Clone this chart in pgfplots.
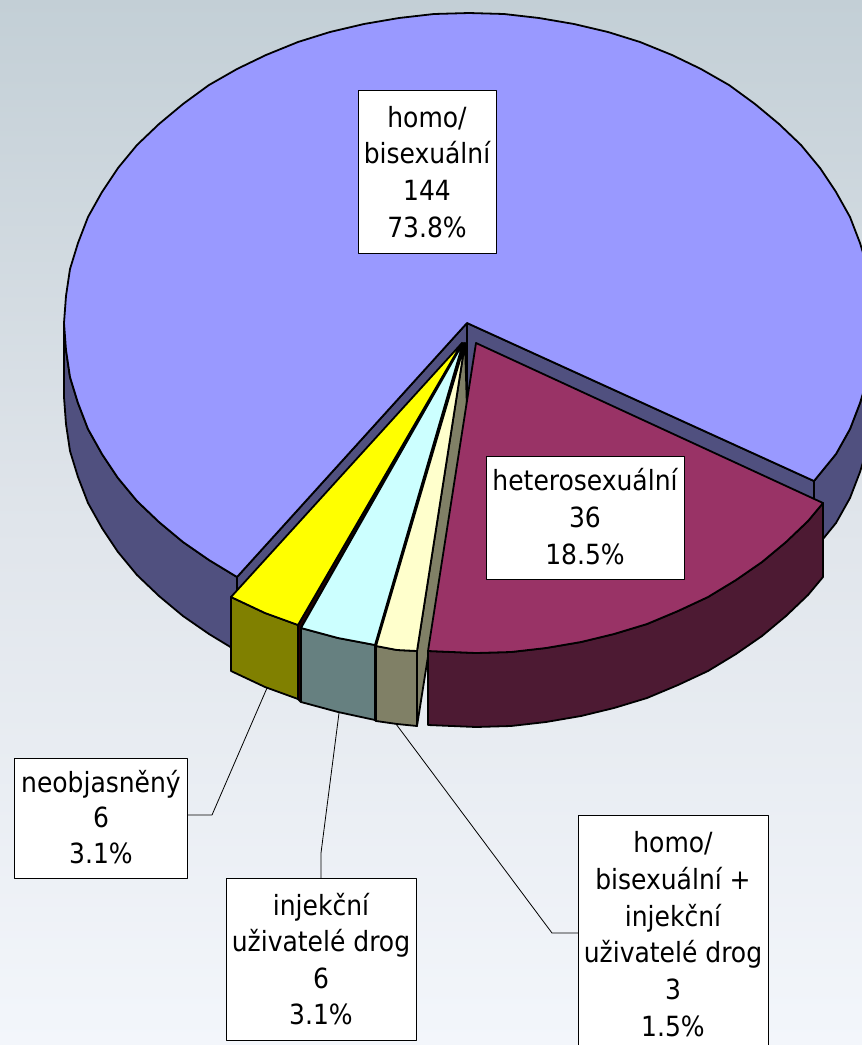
\documentclass[border=0pt]{standalone}
\usepackage{fontspec}
\setmainfont{DejaVu Sans Condensed}
\usepackage{pgfplots}
\pgfplotsset{compat=1.18}
\definecolor{wallblue}{HTML}{50507F}
\definecolor{topblue}{HTML}{9999FF}
\definecolor{topred}{HTML}{993366}
\definecolor{wallred}{HTML}{4D1A33}
\definecolor{topyel}{HTML}{FFFF00}
\definecolor{wallyel}{HTML}{808000}
\definecolor{topcyan}{HTML}{CCFFFF}
\definecolor{wallcyan}{HTML}{668080}
\definecolor{toppale}{HTML}{FFFFCC}
\definecolor{wallpale}{HTML}{808066}
\definecolor{bgtop}{HTML}{C3CFD6}
\definecolor{bgmid}{HTML}{E0E5EB}
\definecolor{bgbot}{HTML}{F3F6FB}
\newcommand{\lab}[3]{\node[font=\fontsize{27.8}{30}\selectfont,anchor=base,inner sep=0pt] at (axis cs:#1,#2) {#3};}
\begin{document}
\begin{tikzpicture}
\begin{axis}[
  width=862pt,height=1045pt,scale only axis,hide axis,
  xmin=0,xmax=862,ymin=0,ymax=1045,y dir=reverse,clip=true,
  every axis plot/.append style={line join=round,line width=1.8pt,draw=black},
]
\fill[top color=bgtop,bottom color=bgbot,middle color=bgmid] (axis cs:0,0) rectangle (axis cs:862,1045);
% leader lines
\addplot[line width=0.8pt,no markers] coordinates {(267,688)(212,815)(187,815)};
\addplot[line width=0.8pt,no markers] coordinates {(339,713)(321,853)(321,878)};
\addplot[line width=0.8pt,no markers] coordinates {(396,724)(552,933)(578,933)};
% big slice: outer walls
\addplot[fill=wallblue] coordinates {(814,481)(836,454)(850,429)(860,403)(868,377)(872,350)(874,323)(874,392)(872,419)(868,446)(860,472)(850,498)(836,523)(814,550)} --cycle;
\addplot[fill=wallblue] coordinates {(64,323)(66,350)(70,377)(78,403)(88,429)(102,454)(118,478)(137,501)(159,522)(183,542)(209,560)(237,577)(237,651)(209,634)(183,616)(159,596)(137,575)(118,552)(102,528)(88,503)(78,477)(70,451)(66,424)(64,397)} --cycle;
% big slice: inner walls
\addplot[fill=wallblue] coordinates {(467,323)(814,481)(814,553)(467,395)} --cycle;
\addplot[fill=wallblue] coordinates {(467,323)(237,577)(237,650)(467,395)} --cycle;
% big slice: top
\addplot[fill=topblue] coordinates {(467,323)(814,481)(836,454)(850,429)(860,403)(868,377)(872,350)(874,323)(872,296)(868,269)(860,243)(850,217)(836,192)(820,168)(801,145)(779,124)(755,104)(729,85)(701,69)(672,55)(640,42)(608,32)(574,24)(539,18)(504,14)(469,13)(434,14)(399,18)(364,24)(330,32)(298,42)(266,55)(237,69)(209,85)(183,104)(159,124)(137,145)(118,168)(102,192)(88,217)(78,243)(70,269)(66,296)(64,323)(66,350)(70,377)(78,403)(88,429)(102,454)(118,478)(137,501)(159,522)(183,542)(209,560)(237,577)} --cycle;
% pale slice: inner wall
\addplot[fill=wallpale] coordinates {(465,343)(417,651)(417,726)(467,410)} --cycle;
% red slice
\addplot[fill=wallred] coordinates {(823,503)(808,521)(786,542)(762,562)(736,580)(708,597)(678,611)(647,624)(614,634)(581,642)(546,648)(511,652)(476,653)(428,651)(428,725)(476,727)(511,726)(546,722)(581,716)(614,708)(647,698)(678,685)(708,671)(736,654)(762,636)(786,616)(808,595)(823,577)} --cycle;
\addplot[fill=topred] coordinates {(476,343)(823,503)(808,521)(786,542)(762,562)(736,580)(708,597)(678,611)(647,624)(614,634)(581,642)(546,648)(511,652)(476,653)(428,651)} --cycle;
% gaps between small slices
\addplot[fill=black!85!red] coordinates {(462,343)(298,625)(298,699)(301,702)(301,628)} --cycle;
\addplot[fill=black] coordinates {(464,343)(375,645)(375,720)(376,721)(376,646)} --cycle;
% yellow
\addplot[fill=wallyel] coordinates {(231,597)(265,613)(298,625)(298,699)(265,687)(231,671)} --cycle;
\addplot[fill=topyel] coordinates {(462,343)(231,597)(265,613)(298,625)} --cycle;
% cyan
\addplot[fill=wallcyan] coordinates {(301,628)(338,638)(375,645)(375,720)(338,712)(301,702)} --cycle;
\addplot[fill=topcyan] coordinates {(463,343)(301,628)(338,638)(375,645)} --cycle;
% pale
\addplot[fill=wallpale] coordinates {(376,646)(397,650)(417,651)(417,726)(397,724)(376,721)} --cycle;
\addplot[fill=toppale] coordinates {(465,343)(376,646)(397,650)(417,651)} --cycle;
% label boxes
\addplot[fill=white,line width=0.8pt] coordinates {(358,90)(496,90)(496,253)(358,253)} --cycle;
\addplot[fill=white,line width=0.8pt] coordinates {(486,456)(684,456)(684,579)(486,579)} --cycle;
\addplot[fill=white,line width=0.8pt] coordinates {(14,758)(187,758)(187,878)(14,878)} --cycle;
\addplot[fill=white,line width=0.8pt] coordinates {(226,878)(416,878)(416,1040)(226,1040)} --cycle;
\addplot[fill=white,line width=0.8pt] coordinates {(578,815)(768,815)(768,1060)(578,1060)} --cycle;
\lab{427}{127}{homo/}
\lab{427}{163}{bisexuální}
\lab{427}{200}{144}
\lab{427}{237}{73.8\%}
\lab{585}{490}{heterosexuální}
\lab{585}{527}{36}
\lab{585}{564}{18.5\%}
\lab{101}{792}{neobjasněný}
\lab{101}{827}{6}
\lab{101}{863}{3.1\%}
\lab{321}{915}{injekční}
\lab{321}{951}{uživatelé drog}
\lab{321}{988}{6}
\lab{321}{1024}{3.1\%}
\lab{673}{852}{homo/}
\lab{673}{889}{bisexuální +}
\lab{673}{926}{injekční}
\lab{673}{962}{uživatelé drog}
\lab{673}{999}{3}
\lab{673}{1036}{1.5\%}
\end{axis}
\end{tikzpicture}
\end{document}
